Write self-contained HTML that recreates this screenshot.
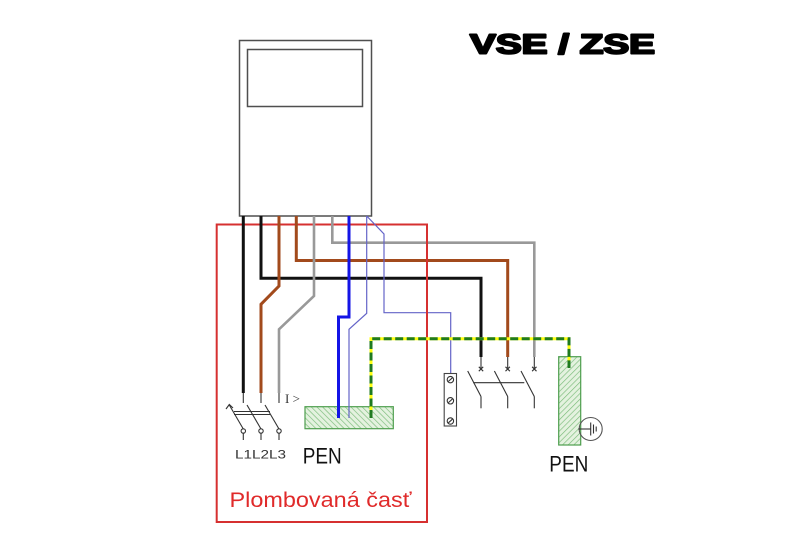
<!DOCTYPE html>
<html><head><meta charset="utf-8"><style>
html,body{margin:0;padding:0;background:#fff;}
svg{display:block;}
</style></head><body>
<svg width="800" height="533" viewBox="0 0 800 533" xmlns="http://www.w3.org/2000/svg">
<defs>
<pattern id="hL" patternUnits="userSpaceOnUse" width="4" height="4" patternTransform="rotate(-45)">
<rect width="4" height="4" fill="#e4f2df"/>
<line x1="0" y1="0" x2="0" y2="4" stroke="#79bb79" stroke-width="1.3"/>
</pattern>
<pattern id="hR" patternUnits="userSpaceOnUse" width="4" height="4" patternTransform="rotate(45)">
<rect width="4" height="4" fill="#e4f2df"/>
<line x1="0" y1="0" x2="0" y2="4" stroke="#79bb79" stroke-width="1.3"/>
</pattern>
</defs>
<rect width="800" height="533" fill="#fff"/>

<text x="470" y="53.5" font-family="Liberation Sans, sans-serif" font-weight="bold" font-size="27.5" textLength="185" lengthAdjust="spacingAndGlyphs" fill="#000" stroke="#000" stroke-width="2" stroke-linejoin="round">VSE / ZSE</text>

<rect x="239.5" y="40.5" width="132" height="175.5" fill="#fff" stroke="#4f4f4f" stroke-width="1.5"/>
<rect x="247.5" y="49.5" width="115" height="57" fill="#fff" stroke="#4f4f4f" stroke-width="1.5"/>

<rect x="216.7" y="224.5" width="210.3" height="297.5" fill="none" stroke="#d63030" stroke-width="2"/>

<rect x="305" y="406.7" width="88.3" height="22" fill="url(#hL)" stroke="#4e9e4e" stroke-width="1.2"/>
<rect x="558.7" y="356.7" width="22" height="88.3" fill="url(#hR)" stroke="#4e9e4e" stroke-width="1.2"/>

<g fill="none" stroke-linejoin="miter">
<polyline points="243.3,216 243.3,393" stroke="#111" stroke-width="3"/>
<polyline points="261,216 261,278.3 481,278.3 481,357" stroke="#111" stroke-width="3"/>
<polyline points="279,216 279,286 261,304.3 261,393" stroke="#a24a1c" stroke-width="3"/>
<polyline points="296.3,216 296.3,260.5 507.7,260.5 507.7,357" stroke="#a24a1c" stroke-width="3"/>
<polyline points="314,216 314,296 279,329.3 279,393" stroke="#999" stroke-width="2.6"/>
<polyline points="332.3,216 332.3,242.7 534.3,242.7 534.3,357" stroke="#999" stroke-width="2.6"/>
<polyline points="349,216 349,317 338.5,317 338.5,418" stroke="#1414e6" stroke-width="3"/>
<polyline points="366.7,216 366.7,313.3 349,329.3 349,418" stroke="#6464c8" stroke-width="1.2"/>
<polyline points="366.7,216 384,234 384,312.7 450.7,312.7 450.7,374" stroke="#6464c8" stroke-width="1.2"/>
</g>

<line x1="427" y1="224.5" x2="427" y2="522" stroke="#d63030" stroke-width="2"/>

<polyline points="371,418 371,338.7 569,338.7 569,368" fill="none" stroke="#ffff10" stroke-width="3"/>
<polyline points="371,418 371,338.7 569,338.7 569,368" fill="none" stroke="#1f7a1f" stroke-width="3" stroke-dasharray="8 3.5"/>

<g stroke="#333" stroke-width="1.1" fill="none">
<line x1="243.3" y1="393" x2="243.3" y2="403"/>
<line x1="261" y1="393" x2="261" y2="403"/>
<line x1="279" y1="393" x2="279" y2="403"/>
<line x1="229.3" y1="405" x2="243.3" y2="429"/>
<line x1="247" y1="405" x2="261" y2="429"/>
<line x1="265" y1="405" x2="279" y2="429"/>
<line x1="234" y1="411.5" x2="270" y2="411.5"/>
<line x1="234" y1="414.5" x2="270" y2="414.5"/>
<path d="M226,409 L229.3,404.5 L233,408"/>
<circle cx="243.3" cy="431" r="2.2" fill="#fff"/>
<circle cx="261" cy="431" r="2.2" fill="#fff"/>
<circle cx="279" cy="431" r="2.2" fill="#fff"/>
<line x1="243.3" y1="433.2" x2="243.3" y2="440"/>
<line x1="261" y1="433.2" x2="261" y2="440"/>
<line x1="279" y1="433.2" x2="279" y2="440"/>

<line x1="481" y1="357" x2="481" y2="369"/>
<line x1="507.7" y1="357" x2="507.7" y2="369"/>
<line x1="534.3" y1="357" x2="534.3" y2="369"/>
<path d="M478.8,366.8 L483.2,371.2 M483.2,366.8 L478.8,371.2"/>
<path d="M505.5,366.8 L509.9,371.2 M509.9,366.8 L505.5,371.2"/>
<path d="M532.1,366.8 L536.5,371.2 M536.5,366.8 L532.1,371.2"/>
<line x1="467.7" y1="371" x2="481" y2="396.5"/>
<line x1="494.4" y1="371" x2="507.7" y2="396.5"/>
<line x1="521" y1="371" x2="534.3" y2="396.5"/>
<line x1="481" y1="396.5" x2="481" y2="408.3"/>
<line x1="507.7" y1="396.5" x2="507.7" y2="408.3"/>
<line x1="534.3" y1="396.5" x2="534.3" y2="408.3"/>
<line x1="473.3" y1="382.7" x2="524.3" y2="382.7"/>

<rect x="444.2" y="373.5" width="12.3" height="52.5" fill="#fff" stroke="#444"/>
<circle cx="450.4" cy="379.6" r="3.2"/>
<circle cx="450.4" cy="400.8" r="3.2"/>
<circle cx="450.4" cy="421" r="3.2"/>
<path d="M448.4,381.4 L452.4,377.8 M448.4,402.6 L452.4,399 M448.4,422.8 L452.4,419.2"/>

<circle cx="590.7" cy="429" r="11.5" stroke="#555"/>
<line x1="578.3" y1="429" x2="590.7" y2="429"/>
<line x1="590.7" y1="422.5" x2="590.7" y2="435.5"/>
<line x1="593.5" y1="424.5" x2="593.5" y2="433.5"/>
<line x1="596.2" y1="426.5" x2="596.2" y2="431.5"/>
</g>

<text x="285" y="403" font-family="Liberation Serif, serif" font-size="13" fill="#333">I &gt;</text>
<text x="235" y="458.3" font-family="Liberation Sans, sans-serif" font-size="12" fill="#333" textLength="51" lengthAdjust="spacingAndGlyphs">L1L2L3</text>
<text x="302.7" y="463.3" font-family="Liberation Sans, sans-serif" font-size="22" fill="#111" textLength="39" lengthAdjust="spacingAndGlyphs">PEN</text>
<text x="549.3" y="471.7" font-family="Liberation Sans, sans-serif" font-size="22" fill="#111" textLength="39" lengthAdjust="spacingAndGlyphs">PEN</text>
<text x="229.5" y="506.8" font-family="Liberation Sans, sans-serif" font-size="21" fill="#e02a2a" textLength="182" lengthAdjust="spacingAndGlyphs">Plombovaná časť</text>
</svg>
</body></html>
